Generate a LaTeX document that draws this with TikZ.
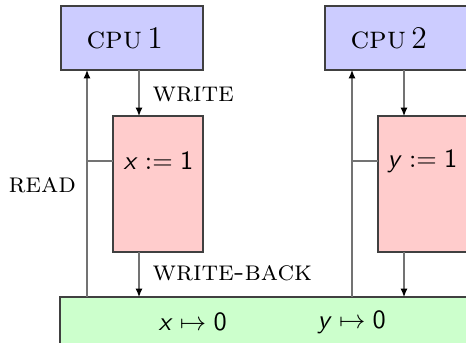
\documentclass[tikz,border=0pt]{standalone}
\usetikzlibrary{arrows.meta}
\tikzset{
  box/.style={draw=black!75, line width=0.45pt},
  cpubox/.style={box, fill=blue!20},
  bufbox/.style={box, fill=red!20},
  membox/.style={box, fill=green!20},
  arr/.style={draw=black!55, line width=0.45pt, -{Latex[length=3.2pt,width=2.7pt,color=black]}},
  ln/.style={draw=black!55, line width=0.45pt},
  lbl/.style={inner sep=0pt, anchor=west},
  sclbl/.style={lbl, font=\fontsize{10.7}{12}\selectfont\scshape},
}
\newcommand{\sfm}[1]{\textsf{\textit{#1}}}
\begin{document}
\begin{tikzpicture}[x=0.38pt,y=-0.38pt]
\useasboundingbox (0,0) rectangle (466,342);
\clip (0,0) rectangle (466,342);
% boxes
\path[cpubox] (61,6) rectangle (203,70);
\path[cpubox] (325,6) rectangle (490,70);
\path[bufbox] (113,116) rectangle (203,252);
\path[bufbox] (378,116) rectangle (500,252);
\path[membox] (60,297) rectangle (500,380);
% named reference points
\coordinate (c1b) at (0,70);
\coordinate (b1t) at (0,116);
\coordinate (b1b) at (0,252);
\coordinate (mt) at (0,297);
\coordinate (r1) at (87,0);
\coordinate (w1) at (139,0);
\coordinate (r2) at (352,0);
\coordinate (w2) at (404,0);
\coordinate (s1) at (113,161);
\coordinate (s2) at (378,161);
% texts
\node[lbl] (t1) at (86,38) {\large\textsc{cpu}\,1};
\node[lbl] (t2) at (350,38) {\large\textsc{cpu}\,2};
\node[lbl] (bx) at (123,161) {$\sfm{x} := \textsf{1}$};
\node[lbl] (by) at (387,161) {$\sfm{y} := \textsf{1}$};
\node[lbl] (mx) at (158,322) {$\sfm{x} \mapsto \textsf{0}$};
\node[lbl] (my) at (317,322) {$\sfm{y} \mapsto \textsf{0}$};
\node[sclbl] (lr) at (8,185) {read};
\node[sclbl] (lw) at (152,94) {write};
\node[sclbl] (lwb) at (152,273) {write-back};
% connectors CPU 1
\draw[arr] (mt -| r1) -- (c1b -| r1);
\draw[ln] (s1 -| r1) -- (s1);
\draw[arr] (c1b -| w1) -- (b1t -| w1);
\draw[arr] (b1b -| w1) -- (mt -| w1);
% connectors CPU 2
\draw[arr] (mt -| r2) -- (c1b -| r2);
\draw[ln] (s2 -| r2) -- (s2);
\draw[arr] (c1b -| w2) -- (b1t -| w2);
\draw[arr] (b1b -| w2) -- (mt -| w2);
\end{tikzpicture}
\end{document}
